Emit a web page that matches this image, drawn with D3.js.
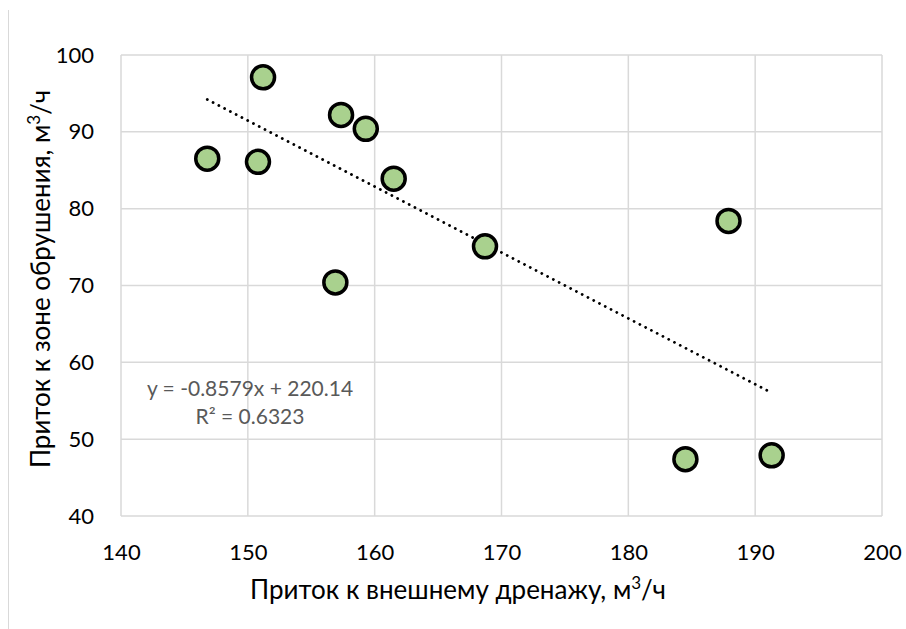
<!DOCTYPE html>
<html>
<head>
<meta charset="utf-8">
<script src="https://cdn.jsdelivr.net/npm/d3@7"></script>
<style>
  body { margin: 0; background: #fff; }
  svg text { font-family: Lato, "Open Sans", sans-serif; }
</style>
</head>
<body>
<script>
'use strict';

// data
const drainX = [146.8, 151.2, 150.8, 157.35, 159.3, 161.5, 156.9, 168.7, 187.9, 184.5, 191.3];
const collapseY = [86.5, 97.1, 86.1, 92.2, 90.4, 83.9, 70.4, 75.1, 78.4, 47.4, 47.9];
const xTicks = [140, 150, 160, 170, 180, 190, 200];
const yTicks = [40, 50, 60, 70, 80, 90, 100];
const trendSlope = -0.8579;
const trendIntercept = 220.14;
const eqLines = ["y = -0.8579x + 220.14", "R² = 0.6323"];

const width = 906, height = 629;

const svg = d3.select('body')
  .append('svg')
  .attr('width', width)
  .attr('height', height);

// outer chart border (only the left edge is visible in the source)
svg.append('line')
  .attr('x1', 8.5).attr('x2', 8.5)
  .attr('y1', 10).attr('y2', height)
  .attr('stroke', '#d9d9d9');

const xScale = d3.scaleLinear().domain([140, 200]).range([121, 882]);
const yScale = d3.scaleLinear().domain([40, 100]).range([516, 55]);

// grid lines
svg.append('g').selectAll('line')
  .data(yTicks)
  .enter().append('line')
  .attr('x1', xScale(140)).attr('x2', xScale(200))
  .attr('y1', d => yScale(d)).attr('y2', d => yScale(d))
  .attr('stroke', '#d9d9d9').attr('stroke-width', 1.5);

svg.append('g').selectAll('line')
  .data(xTicks)
  .enter().append('line')
  .attr('x1', d => xScale(d)).attr('x2', d => xScale(d))
  .attr('y1', yScale(40)).attr('y2', yScale(100))
  .attr('stroke', '#d9d9d9').attr('stroke-width', 1.5);

// axes (labels only, Excel style)
const xAxis = svg.append('g')
  .attr('transform', 'translate(0,' + yScale(40) + ')')
  .call(d3.axisBottom(xScale).tickValues(xTicks).tickSize(0).tickPadding(0));
xAxis.select('.domain').remove();
xAxis.selectAll('text')
  .attr('dy', null).attr('y', 44)
  .attr('font-size', '22px').attr('fill', '#000');

const yAxis = svg.append('g')
  .attr('transform', 'translate(' + xScale(140) + ',0)')
  .call(d3.axisLeft(yScale).tickValues(yTicks).tickSize(0).tickPadding(27));
yAxis.select('.domain').remove();
yAxis.selectAll('text').attr('font-size', '22px').attr('fill', '#000');

// trend line
const xMin = d3.min(drainX), xMax = d3.max(drainX);
svg.append('line')
  .attr('x1', xScale(xMin)).attr('y1', yScale(trendSlope * xMin + trendIntercept))
  .attr('x2', xScale(xMax)).attr('y2', yScale(trendSlope * xMax + trendIntercept))
  .attr('stroke', '#000')
  .attr('stroke-width', 2.8)
  .attr('stroke-linecap', 'round')
  .attr('stroke-dasharray', '0.1 6.4');

// points
const points = drainX.map((x, i) => ({x: x, y: collapseY[i]}));
svg.append('g').selectAll('circle')
  .data(points)
  .enter().append('circle')
  .attr('cx', d => xScale(d.x))
  .attr('cy', d => yScale(d.y))
  .attr('r', 11.5)
  .attr('fill', '#a9d18e')
  .attr('stroke', '#000')
  .attr('stroke-width', 3.5);

// equation
svg.append('g').selectAll('text')
  .data(eqLines)
  .enter().append('text')
  .attr('x', 250)
  .attr('y', (d, i) => 396 + i * 28)
  .attr('text-anchor', 'middle')
  .attr('font-size', '21px')
  .attr('fill', '#595959')
  .text(d => d);

// axis titles
const xTitle = svg.append('text')
  .attr('x', 458)
  .attr('y', 599)
  .attr('text-anchor', 'middle')
  .attr('font-size', '26px')
  .attr('fill', '#000');
xTitle.append('tspan').text('Приток к внешнему дренажу, м');
xTitle.append('tspan').attr('dy', -10).attr('font-size', '17px').text('3');
xTitle.append('tspan').attr('dy', 10).text('/ч');

const yTitle = svg.append('text')
  .attr('transform', 'translate(50,' + 279 + ')rotate(-90)')
  .attr('text-anchor', 'middle')
  .attr('font-size', '26px')
  .attr('fill', '#000');
yTitle.append('tspan').text('Приток к зоне обрушения, м');
yTitle.append('tspan').attr('dy', -10).attr('font-size', '17px').text('3');
yTitle.append('tspan').attr('dy', 10).text('/ч');
</script>
</body>
</html>
